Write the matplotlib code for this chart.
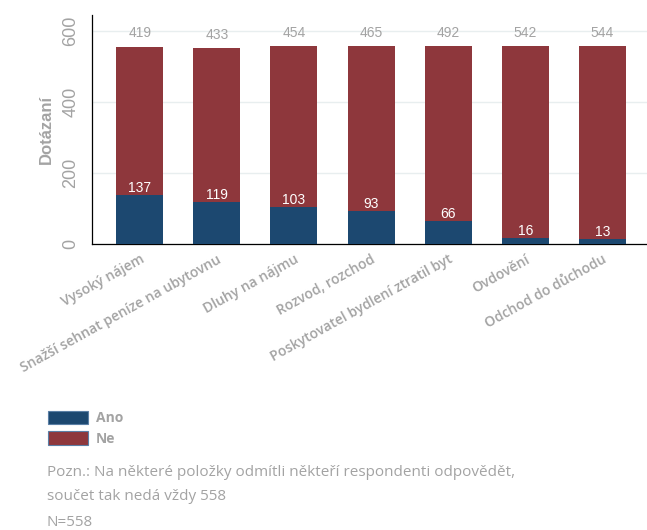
import matplotlib
matplotlib.use('Agg')
import matplotlib.pyplot as plt
from matplotlib.patches import Patch
import numpy as np

kategorie = ['Vysoký nájem', 'Snažší sehnat peníze na ubytovnu', 'Dluhy na nájmu',
             'Rozvod, rozchod', 'Poskytovatel bydlení ztratil byt', 'Ovdovění',
             'Odchod do důchodu']
ano = [137, 119, 103, 93, 66, 16, 13]
ne = [419, 433, 454, 465, 492, 542, 544]
yticks = [0, 200, 400, 600]

modra = '#1c4870'
cervena = '#8e373c'
seda = '#a3a3a3'

plt.rcParams['font.family'] = ['Liberation Sans', 'DejaVu Sans']
popis = ['Open Sans', 'DejaVu Sans']

fig = plt.figure(figsize=(6.47, 5.30), dpi=100)
ax = fig.add_axes([92/647, 1 - 244/530, 1 - 92/647, (244 - 15)/530])

x = np.arange(len(kategorie))
ax.bar(x, ano, width=0.61, color=modra, zorder=3)
ax.bar(x, ne, width=0.61, bottom=ano, color=cervena, zorder=3)

# popisky hodnot
for i in range(len(x)):
    ax.annotate(str(ano[i]), (x[i], ano[i]), xytext=(0, 5), textcoords='offset points',
                ha='center', va='center', color='white', fontsize=10, zorder=4)
    ax.annotate(str(ne[i]), (x[i], ano[i] + ne[i]), xytext=(0, 9.5), textcoords='offset points',
                ha='center', va='center', color=seda, fontsize=10, zorder=4)

ax.set_xlim(-0.62, 6.58)
ax.set_ylim(0, 645)
ax.set_yticks(yticks)
ax.set_yticklabels([str(v) for v in yticks], rotation=90, va='center',
                   fontsize=13, color=seda)
ax.set_xticks(x)
ax.set_xticklabels(kategorie, rotation=29, ha='right', rotation_mode='anchor',
                   fontsize=10, fontweight='semibold', color=seda, family=popis)
ax.tick_params(axis='both', length=0)
ax.tick_params(axis='y', pad=9)
ax.tick_params(axis='x', pad=6)
ax.set_ylabel('Dotázaní', fontsize=12, fontweight='bold', color=seda, labelpad=6)

ax.yaxis.grid(True, color='#e8eeef', linewidth=1, zorder=0)
for s in ['top', 'right']:
    ax.spines[s].set_visible(False)
ax.spines['left'].set_linewidth(0.9)
ax.spines['bottom'].set_linewidth(0.9)

handles = [Patch(facecolor=modra, edgecolor='#5a7fa5', linewidth=0.8, label='Ano'),
           Patch(facecolor=cervena, edgecolor='#5a7fa5', linewidth=0.8, label='Ne')]
leg = fig.legend(handles=handles, loc='upper left', bbox_to_anchor=(42/647, 1 - 405/530),
                 frameon=False, prop={'family': popis, 'size': 10, 'weight': 'bold'},
                 handlelength=2.9, handleheight=1.15,
                 labelspacing=0.45, handletextpad=0.6, borderaxespad=0)
for t in leg.get_texts():
    t.set_color(seda)

fig.text(47/647, 1 - 473/530, 'Pozn.: Na některé položky odmítli někteří respondenti odpovědět,',
         fontsize=11, color=seda, va='center', family=popis)
fig.text(47/647, 1 - 496/530, 'součet tak nedá vždy 558', fontsize=11, color=seda,
         va='center', family=popis)
fig.text(47/647, 1 - 522/530, 'N=558', fontsize=11, color=seda, va='center', family=popis)

plt.savefig('out.png', dpi=100)
